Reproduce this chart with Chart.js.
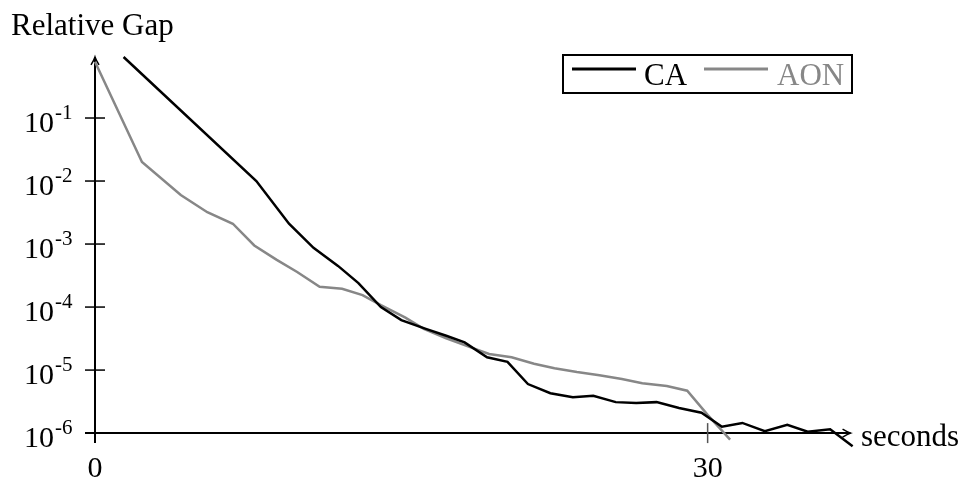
<!DOCTYPE html>
<html>
<head>
<meta charset="utf-8">
<script src="https://cdn.jsdelivr.net/npm/chart.js@4/dist/chart.umd.min.js"></script>
<style>
body{margin:0;background:#fff}
#wrap{width:967px;height:479px}
</style>
</head>
<body>
<div id="wrap"><canvas id="gapChart"></canvas></div>
<script>
let caTime = [1.4,7.9,9.5,10.7,11.9,12.9,14.0,15.0,16.2,17.2,18.1,19.2,20.2,21.2,22.3,23.4,24.4,25.5,26.5,27.5,28.6,29.7,30.7,31.7,32.8,33.9,34.9,36.0,37.1]
let caGap = [0.93,1.0e-2,2.1e-3,8.7e-4,4.5e-4,2.4e-4,1.0e-4,6.2e-5,4.5e-5,3.5e-5,2.75e-5,1.6e-5,1.35e-5,6.0e-6,4.3e-6,3.7e-6,3.9e-6,3.1e-6,3.0e-6,3.1e-6,2.5e-6,2.1e-6,1.26e-6,1.45e-6,1.07e-6,1.35e-6,1.05e-6,1.15e-6,6.2e-7]

let aonTime = [0,2.3,4.2,5.5,6.75,7.8,8.9,9.9,11.0,12.1,13.1,14.0,15.2,16.1,17.2,18.3,19.3,20.4,21.5,22.5,23.6,24.7,25.8,26.8,28.0,29.0,30.0,31.1]
let aonGap = [0.78,2.0e-2,6.0e-3,3.2e-3,2.1e-3,9.5e-4,5.6e-4,3.6e-4,2.1e-4,1.95e-4,1.55e-4,1.07e-4,6.8e-5,4.5e-5,3.2e-5,2.35e-5,1.8e-5,1.6e-5,1.26e-5,1.07e-5,9.3e-6,8.3e-6,7.2e-6,6.2e-6,5.6e-6,4.7e-6,1.95e-6,7.9e-7]

let seriesNames = ["CA","AON"]
let yTickExp = [-1,-2,-3,-4,-5,-6]
let xTicks = [0,30]

let serif = "'Liberation Serif', 'DejaVu Serif', serif"


function toPoints(xs,ys){

return xs.map((x,i)=>({x:x,y:ys[i]}))

}


// axes, ticks, labels and the boxed legend, drawn like the tikz original
let axisPlugin = {

id:"axisPlugin",

beforeDatasetsDraw(chart){

let ctx = chart.ctx
let xs = chart.scales.x
let ys = chart.scales.y

let x0 = xs.getPixelForValue(0)
let xEnd = xs.getPixelForValue(37)
let y0 = ys.getPixelForValue(1e-6)
let yTop = ys.getPixelForValue(0.93)

ctx.save()
ctx.strokeStyle = "#000"
ctx.lineWidth = 2

// y axis
ctx.beginPath()
ctx.moveTo(x0,y0+10)
ctx.lineTo(x0,yTop)
ctx.stroke()

ctx.lineWidth = 1.5
ctx.beginPath()
ctx.moveTo(x0-4,yTop+8)
ctx.quadraticCurveTo(x0-1,yTop+3,x0,yTop)
ctx.quadraticCurveTo(x0+1,yTop+3,x0+4,yTop+8)
ctx.stroke()

// x axis
ctx.lineWidth = 2
ctx.beginPath()
ctx.moveTo(x0-10,y0)
ctx.lineTo(xEnd,y0)
ctx.stroke()

ctx.lineWidth = 1.5
ctx.beginPath()
ctx.moveTo(xEnd-8,y0-4)
ctx.quadraticCurveTo(xEnd-3,y0-1,xEnd,y0)
ctx.quadraticCurveTo(xEnd-3,y0+1,xEnd-8,y0+4)
ctx.stroke()

// y ticks
ctx.lineWidth = 1.5
ctx.fillStyle = "#000"
yTickExp.forEach(e=>{

let py = ys.getPixelForValue(Math.pow(10,e))

ctx.beginPath()
ctx.moveTo(x0-10,py)
ctx.lineTo(x0+10,py)
ctx.stroke()

ctx.font = "30px " + serif
ctx.textAlign = "right"
ctx.textBaseline = "alphabetic"
ctx.fillText("10",54,py+14)

ctx.font = "21px " + serif
ctx.textAlign = "left"
ctx.fillText(String(e),55,py+1)

})

// x ticks
ctx.strokeStyle = "#555"
xTicks.forEach(t=>{

let px = xs.getPixelForValue(t)

if(t!==0){
ctx.beginPath()
ctx.moveTo(px,y0-10)
ctx.lineTo(px,y0+10)
ctx.stroke()
}

ctx.font = "30px " + serif
ctx.textAlign = "center"
ctx.fillText(String(t),px,477)

})

// axis titles
ctx.font = "31px " + serif
ctx.textAlign = "left"
ctx.fillText("Relative Gap",11,35)
ctx.fillText("seconds",861,446)

// legend
let ds = chart.data.datasets
ctx.strokeStyle = "#000"
ctx.lineWidth = 2
ctx.strokeRect(563,55,289,38)

ctx.lineWidth = 3
ctx.strokeStyle = ds[0].borderColor
ctx.beginPath()
ctx.moveTo(572,69)
ctx.lineTo(636,69)
ctx.stroke()
ctx.fillStyle = ds[0].borderColor
ctx.fillText(ds[0].label,644,85)

ctx.strokeStyle = ds[1].borderColor
ctx.beginPath()
ctx.moveTo(704,69)
ctx.lineTo(768,69)
ctx.stroke()
ctx.fillStyle = ds[1].borderColor
ctx.fillText(ds[1].label,777,85)

ctx.restore()

}

}


new Chart(

document.getElementById("gapChart"),

{

type:"line",

data:{

datasets:[

{
label:seriesNames[0],
data:toPoints(caTime,caGap),
borderColor:"#000000",
borderWidth:2.5,
pointRadius:0,
tension:0,
clip:false
},

{
label:seriesNames[1],
data:toPoints(aonTime,aonGap),
borderColor:"#878787",
borderWidth:2.5,
pointRadius:0,
tension:0,
clip:false
}

]

},

options:{

responsive:true,
maintainAspectRatio:false,
animation:false,

layout:{padding:{left:95,right:96,top:55,bottom:27}},

plugins:{
legend:{display:false},
tooltip:{enabled:false}
},

scales:{

x:{
type:"linear",
min:0,
max:38,
display:false
},

y:{
type:"logarithmic",
min:Math.pow(10,-6.3),
max:1,
display:false
}

}

},

plugins:[axisPlugin]

}

)
</script>
</body>
</html>
